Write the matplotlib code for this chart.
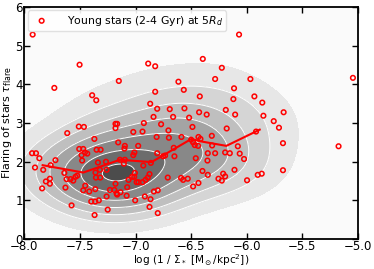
import numpy as np
import matplotlib
matplotlib.use('Agg')
import matplotlib.pyplot as plt

# Young stars (2-4 Gyr) at 5 R_d: log(1/Sigma_*) and flaring
log_inv_sigma = [
    -7.925, -7.503, -7.73, -7.93, -7.895, -7.865, -7.904, -7.83, -7.806, -7.77,
    -7.77, -7.84, -7.763, -7.72, -7.64, -7.62, -7.584, -7.56, -7.54, -7.524,
    -7.63, -7.575, -7.614, -7.51, -7.464, -7.506, -7.47, -7.455, -7.434, -7.485,
    -7.48, -7.47, -7.452, -7.416, -7.398, -7.362, -7.368, -7.362, -7.39, -7.353,
    -7.37, -7.35, -7.314, -7.338, -7.36, -7.356, -7.317, -7.32, -7.266, -7.26,
    -7.23, -7.25, -7.19, -7.18, -7.165, -7.135, -7.18, -7.165, -7.18, -7.15,
    -7.156, -7.096, -7.10, -7.14, -7.096, -7.105, -7.063, -7.075, -7.08, -7.02,
    -6.976, -7.02, -7.01, -7.006, -7.03, -7.012, -6.99, -6.973, -6.937, -7.003,
    -6.937, -6.925, -6.93, -6.91, -6.916, -6.886, -6.823, -6.868, -6.823, -6.838,
    -6.805, -6.81, -6.805, -6.862, -6.874, -6.89, -6.865, -6.874, -6.835, -6.80,
    -6.80, -6.77, -6.704, -6.692, -6.752, -6.734, -6.71, -6.662, -6.65, -6.656,
    -6.614, -6.566, -6.56, -6.587, -6.59, -6.572, -6.53, -6.518, -6.488, -6.482,
    -6.50, -6.482, -6.467, -6.458, -6.434, -6.422, -6.428, -6.434, -6.416, -6.437,
    -6.395, -6.398, -6.36, -6.35, -6.353, -6.35, -6.314, -6.311, -6.284, -6.284,
    -6.254, -6.224, -6.212, -6.194, -6.224, -6.188, -6.18, -6.194, -6.152, -6.12,
    -6.114, -6.104, -6.11, -6.08, -6.063, -6.069, -6.024, -5.997, -5.967, -5.931,
    -5.916, -5.901, -5.865, -5.86, -5.85, -5.757, -5.71, -5.668, -5.674, -5.674,
    -5.174, -5.045, -7.17, -7.26, -6.70, -7.33,
]
tau_flare = [
    5.29, 4.51, 3.91, 2.22, 2.22, 2.09, 1.85, 1.79, 1.49, 1.56,
    1.43, 1.31, 1.91, 2.04, 1.71, 1.55, 1.55, 1.51, 1.61, 1.64,
    1.33, 0.87, 2.74, 2.91, 2.90, 2.33, 2.33, 2.24, 2.21, 2.17,
    2.03, 1.26, 1.38, 1.23, 0.97, 0.97, 0.62, 1.29, 3.72, 3.59,
    2.59, 2.31, 2.31, 1.98, 1.72, 1.59, 1.59, 1.79, 2.00, 1.79,
    1.27, 0.76, 1.27, 1.43, 1.15, 1.21, 2.98, 2.98, 2.87, 4.09,
    2.50, 2.41, 2.34, 2.05, 2.05, 1.95, 1.53, 1.34, 1.12, 2.77,
    2.41, 2.17, 2.24, 1.71, 1.61, 1.61, 1.47, 1.47, 1.47, 1.00,
    2.78, 3.00, 1.90, 1.53, 1.10, 4.54, 4.47, 3.50, 3.81, 3.16,
    3.37, 2.64, 2.22, 1.97, 1.68, 1.59, 1.03, 0.83, 1.23, 1.26,
    0.67, 2.97, 2.81, 3.36, 2.14, 2.16, 1.59, 3.16, 2.14, 2.36,
    4.07, 3.86, 3.38, 2.64, 1.58, 1.53, 1.56, 3.14, 2.90, 1.36,
    2.57, 2.50, 2.43, 2.09, 1.45, 3.69, 3.28, 2.64, 2.59, 2.41,
    4.66, 1.76, 3.22, 2.22, 2.03, 1.66, 2.67, 2.42, 2.22, 4.14,
    1.56, 1.51, 1.69, 1.62, 4.43, 3.34, 2.86, 2.24, 2.22, 3.62,
    3.90, 3.22, 1.79, 2.40, 2.21, 5.29, 2.07, 1.52, 4.14, 3.69,
    2.78, 1.66, 1.69, 3.53, 3.19, 3.05, 2.88, 3.28, 2.48, 1.78,
    2.40, 4.17, 1.18, 1.10, 2.62, 1.00,
]

# running median of the flaring
median_x = [-7.835, -7.47, -7.14, -6.856, -6.497, -6.42, -6.183, -5.883]
median_y = [1.91, 1.72, 2.05, 1.99, 2.59, 2.53, 2.41, 2.83]

x = np.array(log_inv_sigma)
y = np.array(tau_flare)

# Gaussian kernel density of the sample
gx, gy = np.meshgrid(np.linspace(-8, -5, 300), np.linspace(0, 6, 300))
bw_x, bw_y = 0.34, 0.6
dens = np.zeros_like(gx)
for xi, yi in zip(x, y):
    dens += np.exp(-0.5 * (((gx - xi) / bw_x) ** 2 + ((gy - yi) / bw_y) ** 2))
dens /= dens.max()

levels = [0.0, 0.16, 0.3, 0.44, 0.58, 0.72, 0.86, 0.975, 1.01]
fills = ['#fafafa', '#e7e7e7', '#d5d5d5', '#bfbfbf', '#a4a4a4', '#888888',
         '#6c6c6c', '#4c4c4c']

fig = plt.figure(figsize=(3.74, 2.69), dpi=100)
ax = fig.add_axes([0.065, 0.1115, 0.892, 0.862])

ax.contourf(gx, gy, dens, levels=levels, colors=fills)
ax.contour(gx, gy, dens, levels=levels[2:-1], colors='white', linewidths=0.7)

ax.scatter(x, y, s=11, facecolors='none', edgecolors='red', linewidths=1.1,
           label=r'Young stars (2-4 Gyr) at 5$R_d$', zorder=3)
ax.plot(median_x, median_y, color='red', lw=1.5, zorder=4)

ax.set_xlim(-8, -5)
ax.set_ylim(0, 6)
ax.set_xticks([-8, -7.5, -7, -6.5, -6, -5.5, -5])
ax.set_xlabel(r'log (1 / $\Sigma_*$ [M$_\odot$/kpc$^2$])', fontsize=7.6, labelpad=-0.8)
ax.set_ylabel(r'Flaring of stars $\tau_{\rm flare}$', fontsize=8, labelpad=1)
ax.tick_params(direction='in', top=True, right=True, length=4, width=1,
               labelsize=8.5, pad=1)
for sp in ax.spines.values():
    sp.set_linewidth(1.3)

ax.legend(loc='upper left', fontsize=7.8, scatterpoints=1, handletextpad=1.3,
          borderpad=0.3, borderaxespad=0.3, framealpha=0.9, edgecolor='#dddddd')

fig.savefig('out.png', dpi=100)
